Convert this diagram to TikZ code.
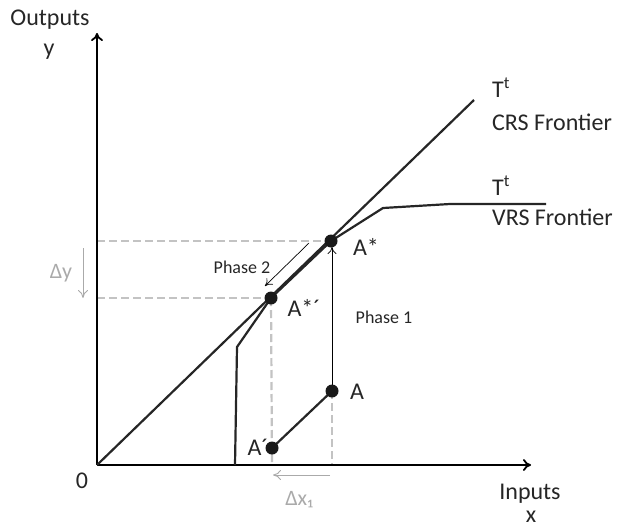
\documentclass[tikz,border=0pt]{standalone}
\usepackage{fontspec}
\setmainfont{Carlito}
\usetikzlibrary{arrows.meta}
\definecolor{dgray}{RGB}{195,195,195}
\definecolor{tgray}{RGB}{170,170,170}
\tikzset{
  axisline/.style={line width=2.6pt, -{To[length=8pt,width=12pt,line width=1.8pt]}},
  curve/.style={line width=2.2pt, black!85},
  dashline/.style={dgray, line width=2.2pt, dash pattern=on 8pt off 4pt},
  thinarrow/.style={line width=0.7pt, -{To[length=7pt,width=9pt]}},
  grayarrow/.style={tgray, line width=0.9pt, -{To[length=8pt,width=10pt]}},
  dot/.style={circle, fill=black!90, inner sep=0pt, minimum size=13pt},
  lbl/.style={inner sep=0pt, font=\fontsize{24}{28}\selectfont, text=black!85},
  small/.style={inner sep=0pt, font=\fontsize{18}{21}\selectfont, text=black!85},
  glbl/.style={inner sep=0pt, font=\fontsize{22}{26}\selectfont, text=tgray}
}
\begin{document}
\begin{tikzpicture}[x=1pt,y=-1pt]
\useasboundingbox (0,0) rectangle (618,530);
% key points
\coordinate (O) at (97,465);
\coordinate (ytop) at (97,33);
\coordinate (xend) at (531,465);
\coordinate (crsend) at (474,100);
\coordinate (Astar) at (331,241);
\coordinate (Astarp) at (271,298);
\coordinate (Ap) at (272,448);
\coordinate (Apt) at (332,391);
\coordinate (yAstar) at (97,241);
\coordinate (yAstarp) at (97,298);
\coordinate (xAstarp) at (272,465);
\coordinate (xA) at (332,465);
\coordinate (v0) at (235,465);
\coordinate (v1) at (237,347);
\coordinate (v2) at (383,208);
\coordinate (v3) at (450,204);
\coordinate (v4) at (546,204);
% dashed guides
\draw[dashline] (yAstar) -- (Astar);
\draw[dashline] (yAstarp) -- (Astarp);
\draw[dashline] (Astarp) -- (xAstarp);
\draw[dashline] (Apt) -- (xA);
% axes
\draw[axisline] (O) -- (ytop);
\draw[axisline] (O) -- (xend);
% frontiers
\draw[curve] (O) -- (crsend);
\draw[curve] (v0) -- (v1) -- (Astarp) -- (Astar) -- (v2) -- (v3) -- (v4);
% A' to A
\draw[curve] (Ap) -- (Apt);
% phase arrows
\coordinate (p1s) at (332,389);
\coordinate (p1e) at (332,247);
\draw[thinarrow] (p1s) -- (p1e);
\coordinate (p2s) at (309,243);
\coordinate (p2e) at (265,286);
\draw[thinarrow] (p2s) -- (p2e);
% gray delta arrows
\coordinate (dys) at (83,248);
\coordinate (dye) at (83,298);
\draw[grayarrow] (dys) -- (dye);
\coordinate (dxs) at (330,475);
\coordinate (dxe) at (273,475);
\draw[grayarrow] (dxs) -- (dxe);
% dots
\node[dot] (nAstar) at (Astar) {};
\node[dot] (nAstarp) at (Astarp) {};
\node[dot] (nA) at (Apt) {};
\node[dot] (nAp) at (Ap) {};
% labels
\node[lbl] (tout) at (50,20) {Outputs};
\node[lbl] (ty) at (49,52) {y};
\node[lbl] (t0) at (82,481) {0};
\node[lbl] (tin) at (530,494) {Inputs};
\node[lbl, anchor=base] (tx) at (531,522) {x};
\node[lbl, anchor=west] (tT1) at (492,88) {T\textsuperscript{t}};
\node[lbl, anchor=west] (tcrs) at (492,122) {CRS Frontier};
\node[lbl, anchor=west] (tT2) at (492,186) {T\textsuperscript{t}};
\node[lbl, anchor=west] (tvrs) at (492,217) {VRS Frontier};
\node[lbl] (tAstar) at (366,247) {A*};
\node[lbl] (tAstarp) at (304,308) {A*\textasciiacute};
\node[lbl] (tA) at (357,392) {A};
\node[lbl] (tAp) at (258,447) {A\textasciiacute};
\node[small] (tp1) at (384,317) {Phase 1};
\node[small] (tp2) at (242,267) {Phase 2};
\node[glbl] (tdy) at (61,273) {Δy};
\node[glbl] (tdx) at (299,500) {Δx₁};
\end{tikzpicture}
\end{document}
